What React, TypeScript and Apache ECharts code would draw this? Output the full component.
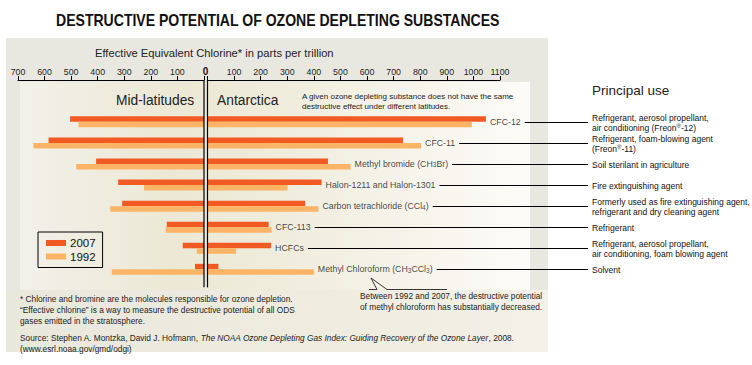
import React, { useEffect, useRef } from 'react';
import * as echarts from 'echarts';

const FONT = '"Liberation Sans", Arial, sans-serif';

const categories = [
  'CFC-12',
  'CFC-11',
  'Methyl bromide (CH3Br)',
  'Halon-1211 and Halon-1301',
  'Carbon tetrachloride (CCl4)',
  'CFC-113',
  'HCFCs',
  'Methyl Chloroform (CH3CCl3)',
];
const categoryLabels = [
  'CFC-12',
  'CFC-11',
  'Methyl bromide (CH{s|3}Br)',
  'Halon-1211 and Halon-1301',
  'Carbon tetrachloride (CCl{s|4})',
  'CFC-113',
  'HCFCs',
  'Methyl Chloroform (CH{s|3}CCl{s|3})',
];
// Mid-latitudes (left side), Antarctica (right side), ppt
const midLat2007 = [504, 585, 406, 323, 308, 140, 80, 34];
const midLat1992 = [472, 642, 481, 226, 353, 144, 27, 347];
const antarctica2007 = [1047, 735, 453, 429, 367, 230, 239, 41];
const antarctica1992 = [994, 803, 538, 301, 417, 241, 107, 400];

const principalUse = [
  'Refrigerant, aerosol propellant,\nair conditioning (Freon{r|®}-12)',
  'Refrigerant, foam-blowing agent\n(Freon{r|®}-11)',
  'Soil sterilant in agriculture',
  'Fire extinguishing agent',
  'Formerly used as fire extinguishing agent,\nrefrigerant and dry cleaning agent',
  'Refrigerant',
  'Refrigerant, aerosol propellant,\nair conditioning, foam blowing agent',
  'Solvent',
];

const leftMax = 700;
const rightMax = 1100;
const tickStep = 100;

const TITLE = 'DESTRUCTIVE POTENTIAL OF OZONE DEPLETING SUBSTANCES';
const AXIS_TITLE = 'Effective Equivalent Chlorine* in parts per trillion';
const NOTE = ['A given ozone depleting substance does not have the same', 'destructive effect under different latitudes.'];
const CALLOUT = ['Between 1992 and 2007, the destructive potential', 'of methyl chloroform has substantially decreased.'];
const FOOT = [
  '* Chlorine and bromine are the molecules responsible for ozone depletion.',
  '\u201CEffective chlorine\u201D is a way to measure the destructive potential of all ODS',
  'gases emitted in the stratosphere.',
];
const SOURCE = 'Source: Stephen A. Montzka, David J. Hofmann, {i|The NOAA Ozone Depleting Gas Index: Guiding Recovery of the Ozone Layer}, 2008.';
const SOURCE2 = '(www.esrl.noaa.gov/gmd/odgi)';

const C2007 = '#f15a22';
const C1992 = '#fbb466';

const LABEL_SIZE = 8.8;
const SUB_SIZE = 6.5;

function measureRich(ctx: CanvasRenderingContext2D, str: string, size: number, subSize: number) {
  const parts = str.split(/(\{[a-z]\|[^}]*\})/);
  let w = 0;
  for (const p of parts) {
    if (!p) continue;
    const m = p.match(/^\{([a-z])\|([^}]*)\}$/);
    if (m) {
      ctx.font = `${subSize}px ${FONT}`;
      w += ctx.measureText(m[2]).width;
    } else {
      ctx.font = `${size}px ${FONT}`;
      w += ctx.measureText(p).width;
    }
  }
  return w;
}

export default function App() {
  const ref = useRef<HTMLDivElement>(null);
  useEffect(() => {
    if (!ref.current) return;
    const chart = echarts.init(ref.current, undefined, { renderer: 'svg' });
    const gridTop = 111.3;
    const gridHeight = 168.6;
    const axisY = 80;
    const labelMax = antarctica2007.map((v, i) => Math.max(v, antarctica1992[i]));

    const barCommon = { type: 'bar', barWidth: 5.5, barGap: '0%', silent: true };
    chart.setOption({
      animation: false,
      backgroundColor: '#ffffff',
      legend: {
        data: ['2007', '1992'],
        orient: 'vertical',
        left: 38,
        top: 232,
        padding: [5, 7, 5, 8],
        itemWidth: 20,
        itemHeight: 6,
        itemGap: 1.5,
        icon: 'rect',
        borderColor: '#000',
        borderWidth: 1,
        selectedMode: false,
        textStyle: { fontSize: 11.5, lineHeight: 12, fontFamily: FONT, color: '#111', padding: [0, 0, 0, -1] },
      },
      grid: [
        { left: 18, width: 186, top: gridTop, height: gridHeight },
        { left: 207.5, width: 292.5, top: gridTop, height: gridHeight },
      ],
      xAxis: [
        {
          gridIndex: 0, type: 'value', min: 0, max: leftMax, interval: tickStep, inverse: true,
          position: 'top', offset: gridTop - axisY,
          axisLine: { show: true, lineStyle: { color: '#000', width: 1 } },
          axisTick: { show: true, inside: false, length: 4, lineStyle: { color: '#000' } },
          axisLabel: {
            fontSize: 8.8, fontFamily: FONT, color: '#222', margin: 4,
            formatter: (v: number) => (v === 0 ? '{b|0}' : String(v)),
            rich: { b: { fontSize: 10, fontWeight: 'bold', fontFamily: FONT, color: '#111', padding: [0, 0, 0, 3] } },
          },
          splitLine: { show: false },
        },
        {
          gridIndex: 1, type: 'value', min: 0, max: rightMax, interval: tickStep,
          position: 'top', offset: gridTop - axisY,
          axisLine: { show: true, lineStyle: { color: '#000', width: 1 } },
          axisTick: { show: true, inside: false, length: 4, lineStyle: { color: '#000' } },
          axisLabel: {
            fontSize: 8.8, fontFamily: FONT, color: '#222', margin: 4,
            formatter: (v: number) => (v === 0 ? '' : String(v)),
          },
          splitLine: { show: false },
        },
      ],
      yAxis: [
        { gridIndex: 0, type: 'category', data: categories, inverse: true, show: false },
        { gridIndex: 1, type: 'category', data: categories, inverse: true, show: false },
      ],
      series: [
        { ...barCommon, name: '2007', xAxisIndex: 0, yAxisIndex: 0, data: midLat2007, itemStyle: { color: C2007 } },
        { ...barCommon, name: '1992', xAxisIndex: 0, yAxisIndex: 0, data: midLat1992, itemStyle: { color: C1992 } },
        { ...barCommon, name: '2007', xAxisIndex: 1, yAxisIndex: 1, data: antarctica2007, itemStyle: { color: C2007 } },
        { ...barCommon, name: '1992', xAxisIndex: 1, yAxisIndex: 1, data: antarctica1992, itemStyle: { color: C1992 } },
        {
          type: 'scatter', name: 'labels', xAxisIndex: 1, yAxisIndex: 1, silent: true,
          symbolSize: 0,
          data: labelMax.map((v, i) => [v, categories[i]]),
          label: {
            show: true, position: 'right', distance: 4,
            fontSize: LABEL_SIZE, fontFamily: FONT, color: '#111',
            formatter: (p: any) => categoryLabels[p.dataIndex],
            rich: { s: { fontSize: SUB_SIZE, fontFamily: FONT, color: '#111', verticalAlign: 'bottom' } },
          },
        },
      ],
    });

    const canvas = document.createElement('canvas');
    const ctx = canvas.getContext('2d') as CanvasRenderingContext2D;
    ctx.font = `bold 16.5px ${FONT}`;
    const titleW = ctx.measureText(TITLE).width;
    const titleScale = 444 / titleW;

    const x0L = chart.convertToPixel({ xAxisIndex: 0 }, 0) as number;
    const x0R = chart.convertToPixel({ xAxisIndex: 1 }, 0) as number;
    const yLast = chart.convertToPixel({ yAxisIndex: 1 }, categories[categories.length - 1]) as number;
    const lineEndX = 588;
    const useX = 592;

    const g: any[] = [];
    // panel backgrounds
    g.push({ type: 'rect', z: -5, shape: { x: 6, y: 38, width: 542, height: 314 }, style: { fill: '#e9e8e0' } });
    g.push({
      type: 'rect', z: -4, shape: { x: 20, y: 82, width: 510, height: 208 },
      style: {
        fill: new echarts.graphic.LinearGradient(0, 0, 1, 0, [
          { offset: 0, color: '#f2f1ea' },
          { offset: 0.3, color: '#ece8d5' },
          { offset: 0.5, color: '#efecdc' },
          { offset: 1, color: '#fcfbf7' },
        ]),
      },
    });
    g.push({
      type: 'rect', z: -4, shape: { x: 6, y: 290, width: 542, height: 62 },
      style: {
        fill: new echarts.graphic.LinearGradient(0, 0, 1, 0, [
          { offset: 0, color: '#e9e8dd' },
          { offset: 0.6, color: '#efecdf' },
          { offset: 1, color: '#f3f1e8' },
        ]),
      },
    });
    // title
    g.push({
      type: 'text', x: 56, y: 20, scaleX: titleScale, z: 10,
      style: { text: TITLE, fontSize: 16.5, fontWeight: 'bold', fontFamily: FONT, fill: '#111', textAlign: 'left', textVerticalAlign: 'middle' },
    });
    g.push({
      type: 'text', x: 95, y: 53, z: 10,
      style: { text: AXIS_TITLE, fontSize: 11.2, fontFamily: FONT, fill: '#222', textAlign: 'left', textVerticalAlign: 'middle' },
    });
    g.push({
      type: 'text', x: 116, y: 100, z: 10,
      style: { text: 'Mid-latitudes', fontSize: 13.8, fontFamily: FONT, fill: '#222', textAlign: 'left', textVerticalAlign: 'middle' },
    });
    g.push({
      type: 'text', x: 217, y: 100, z: 10,
      style: { text: 'Antarctica', fontSize: 13.8, fontFamily: FONT, fill: '#222', textAlign: 'left', textVerticalAlign: 'middle' },
    });
    NOTE.forEach((t, i) => {
      g.push({
        type: 'text', x: 302, y: 96 + i * 10.5, z: 10,
        style: { text: t, fontSize: 8, fontFamily: FONT, fill: '#222', textAlign: 'left', textVerticalAlign: 'middle' },
      });
    });
    // double zero line
    [x0L, x0R].forEach((x) => {
      g.push({ type: 'line', z: 10, shape: { x1: x, y1: axisY, x2: x, y2: yLast + 18 }, style: { stroke: '#000', lineWidth: 1.2 } });
    });
    // leader lines and principal use
    categories.forEach((c, i) => {
      const xs = (chart.convertToPixel({ xAxisIndex: 1 }, labelMax[i]) as number) + 4 + measureRich(ctx, categoryLabels[i], LABEL_SIZE, SUB_SIZE) + 4;
      const y = Math.round(chart.convertToPixel({ yAxisIndex: 1 }, c) as number) + 0.5;
      g.push({ type: 'line', z: 10, shape: { x1: xs, y1: y, x2: lineEndX, y2: y }, style: { stroke: '#000', lineWidth: 1 } });
      g.push({
        type: 'text', x: useX, y: y, z: 10,
        style: {
          text: principalUse[i], fontSize: 8.5, lineHeight: 10, fontFamily: FONT, fill: '#111',
          textAlign: 'left', textVerticalAlign: 'middle',
          rich: { r: { fontSize: 6, fontFamily: FONT, fill: '#111', verticalAlign: 'top' } },
        },
      });
    });
    g.push({
      type: 'text', x: 592, y: 90, z: 10,
      style: { text: 'Principal use', fontSize: 13.5, fontFamily: FONT, fill: '#222', textAlign: 'left', textVerticalAlign: 'middle' },
    });
    // callout for methyl chloroform
    g.push({
      type: 'polyline', z: 10,
      shape: { points: [[369, 289.5], [377, 289.5], [371, 278], [387, 289.5], [447, 289.5]] },
      style: { stroke: '#222', lineWidth: 0.9, fill: 'none' },
    });
    CALLOUT.forEach((t, i) => {
      g.push({
        type: 'text', x: 360, y: 296 + i * 11, z: 10,
        style: { text: t, fontSize: 8.3, fontFamily: FONT, fill: '#222', textAlign: 'left', textVerticalAlign: 'middle' },
      });
    });
    FOOT.forEach((t, i) => {
      g.push({
        type: 'text', x: 20, y: 299 + i * 11, z: 10,
        style: { text: t, fontSize: 8.3, fontFamily: FONT, fill: '#222', textAlign: 'left', textVerticalAlign: 'middle' },
      });
    });
    g.push({
      type: 'text', x: 20, y: 337.5, z: 10,
      style: {
        text: SOURCE, fontSize: 8.3, fontFamily: FONT, fill: '#222', textAlign: 'left', textVerticalAlign: 'middle',
        rich: { i: { fontSize: 8.3, fontStyle: 'italic', fontFamily: FONT, fill: '#222' } },
      },
    });
    g.push({
      type: 'text', x: 20, y: 348.5, z: 10,
      style: { text: SOURCE2, fontSize: 8.3, fontFamily: FONT, fill: '#222', textAlign: 'left', textVerticalAlign: 'middle' },
    });

    chart.setOption({ graphic: g });
    return () => chart.dispose();
  }, []);
  return <div ref={ref} style={{ position: 'absolute', left: 0, top: 0, width: 752, height: 365 }} />;
}
